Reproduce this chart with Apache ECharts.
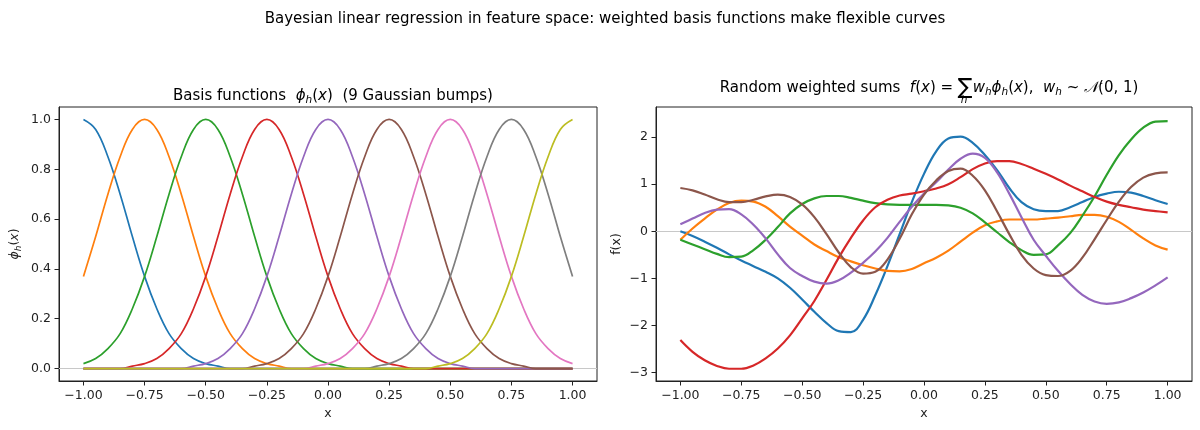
<!DOCTYPE html>
<html>
<head>
<meta charset="utf-8">
<script src="https://cdn.jsdelivr.net/npm/echarts@6/dist/echarts.min.js"></script>
<style>
html, body { margin: 0; padding: 0; background: #fff; }
#main { width: 1200px; height: 430px; }
</style>
</head>
<body>
<div id="main"></div>
<script>
// x grid shared by every curve
var xs = [-1.00, -0.95, -0.90, -0.85, -0.80, -0.75, -0.70, -0.65, -0.60, -0.55,
          -0.50, -0.45, -0.40, -0.35, -0.30, -0.25, -0.20, -0.15, -0.10, -0.05,
           0.00,  0.05,  0.10,  0.15,  0.20,  0.25,  0.30,  0.35,  0.40,  0.45,
           0.50,  0.55,  0.60,  0.65,  0.70,  0.75,  0.80,  0.85,  0.90,  0.95, 1.00];

var xTicks = [-1, -0.75, -0.5, -0.25, 0, 0.25, 0.5, 0.75, 1];
var phiTicks = [0, 0.2, 0.4, 0.6, 0.8, 1.0];
var fTicks = [-3, -2, -1, 0, 1, 2];

// basis functions (centres -1 ... 1)
var phi1 = [1.00,0.96,0.85,0.70,0.53,0.37,0.24,0.14,0.08,0.04,0.02,0.01,0,0,0,0,0,0,0,0,0,0,0,0,0,0,0,0,0,0,0,0,0,0,0,0,0,0,0,0,0];
var phi2 = [0.37,0.53,0.70,0.85,0.96,1.00,0.96,0.85,0.70,0.53,0.37,0.24,0.14,0.08,0.04,0.02,0.01,0,0,0,0,0,0,0,0,0,0,0,0,0,0,0,0,0,0,0,0,0,0,0,0];
var phi3 = [0.02,0.04,0.08,0.14,0.24,0.37,0.53,0.70,0.85,0.96,1.00,0.96,0.85,0.70,0.53,0.37,0.24,0.14,0.08,0.04,0.02,0.01,0,0,0,0,0,0,0,0,0,0,0,0,0,0,0,0,0,0,0];
var phi4 = [0,0,0,0,0.01,0.02,0.04,0.08,0.14,0.24,0.37,0.53,0.70,0.85,0.96,1.00,0.96,0.85,0.70,0.53,0.37,0.24,0.14,0.08,0.04,0.02,0.01,0,0,0,0,0,0,0,0,0,0,0,0,0,0];
var phi5 = [0,0,0,0,0,0,0,0,0,0.01,0.02,0.04,0.08,0.14,0.24,0.37,0.53,0.70,0.85,0.96,1.00,0.96,0.85,0.70,0.53,0.37,0.24,0.14,0.08,0.04,0.02,0.01,0,0,0,0,0,0,0,0,0];
var phi6 = [0,0,0,0,0,0,0,0,0,0,0,0,0,0,0.01,0.02,0.04,0.08,0.14,0.24,0.37,0.53,0.70,0.85,0.96,1.00,0.96,0.85,0.70,0.53,0.37,0.24,0.14,0.08,0.04,0.02,0.01,0,0,0,0];
var phi7 = [0,0,0,0,0,0,0,0,0,0,0,0,0,0,0,0,0,0,0,0.01,0.02,0.04,0.08,0.14,0.24,0.37,0.53,0.70,0.85,0.96,1.00,0.96,0.85,0.70,0.53,0.37,0.24,0.14,0.08,0.04,0.02];
var phi8 = [0,0,0,0,0,0,0,0,0,0,0,0,0,0,0,0,0,0,0,0,0,0,0,0,0.01,0.02,0.04,0.08,0.14,0.24,0.37,0.53,0.70,0.85,0.96,1.00,0.96,0.85,0.70,0.53,0.37];
var phi9 = [0,0,0,0,0,0,0,0,0,0,0,0,0,0,0,0,0,0,0,0,0,0,0,0,0,0,0,0,0,0.01,0.02,0.04,0.08,0.14,0.24,0.37,0.53,0.70,0.85,0.96,1.00];

// random weighted sums
var fBlue   = [0.00,-0.10,-0.22,-0.35,-0.49,-0.62,-0.74,-0.86,-1.00,-1.20,-1.45,-1.71,-1.95,-2.12,-2.14,-1.88,-1.36,-0.74,-0.06,0.62,1.22,1.70,1.97,2.01,1.88,1.62,1.30,0.92,0.62,0.47,0.43,0.43,0.51,0.62,0.73,0.80,0.84,0.82,0.75,0.66,0.58];
var fOrange = [-0.18,0.06,0.27,0.46,0.60,0.65,0.63,0.52,0.32,0.10,-0.09,-0.28,-0.42,-0.55,-0.64,-0.72,-0.79,-0.84,-0.85,-0.80,-0.68,-0.56,-0.41,-0.22,-0.03,0.13,0.21,0.25,0.25,0.25,0.27,0.29,0.32,0.35,0.35,0.31,0.20,0.03,-0.15,-0.30,-0.39];
var fGreen  = [-0.18,-0.28,-0.38,-0.48,-0.55,-0.54,-0.40,-0.18,0.09,0.38,0.58,0.70,0.75,0.75,0.71,0.65,0.60,0.57,0.56,0.56,0.56,0.56,0.55,0.50,0.38,0.19,-0.02,-0.23,-0.40,-0.50,-0.49,-0.30,-0.04,0.33,0.74,1.20,1.62,1.95,2.20,2.33,2.34];
var fRed    = [-2.31,-2.56,-2.74,-2.86,-2.92,-2.92,-2.85,-2.70,-2.49,-2.21,-1.85,-1.48,-1.03,-0.56,-0.14,0.23,0.51,0.67,0.76,0.80,0.85,0.91,1.00,1.15,1.32,1.44,1.49,1.49,1.43,1.33,1.22,1.10,0.97,0.85,0.73,0.63,0.56,0.51,0.46,0.43,0.40];
var fPurple = [0.15,0.27,0.39,0.46,0.47,0.36,0.14,-0.15,-0.49,-0.78,-0.95,-1.07,-1.11,-1.04,-0.88,-0.67,-0.43,-0.14,0.20,0.52,0.80,1.04,1.31,1.54,1.65,1.56,1.25,0.80,0.30,-0.18,-0.52,-0.84,-1.12,-1.35,-1.49,-1.54,-1.51,-1.42,-1.30,-1.15,-0.98];
var fBrown  = [0.92,0.87,0.78,0.68,0.62,0.62,0.67,0.74,0.78,0.73,0.57,0.30,-0.06,-0.45,-0.76,-0.90,-0.86,-0.60,-0.16,0.36,0.78,1.08,1.28,1.33,1.18,0.87,0.42,-0.06,-0.50,-0.79,-0.93,-0.95,-0.84,-0.56,-0.17,0.24,0.63,0.94,1.14,1.23,1.25];

var basisList = [phi1, phi2, phi3, phi4, phi5, phi6, phi7, phi8, phi9];
var sumList = [fBlue, fOrange, fGreen, fRed, fPurple, fBrown];
var colors = ['#1f77b4', '#ff7f0e', '#2ca02c', '#d62728', '#9467bd', '#8c564b', '#e377c2', '#7f7f7f', '#bcbd22'];

var FONT = 'DejaVu Sans';
var INK = '#222';

function minus(s) { return s.replace('-', '\u2212'); }

function pairs(ys) {
    return xs.map(function (x, i) { return [x, ys[i]]; });
}

// thin grey y = 0 reference line, kept under the curves
var zeroLine = {
    silent: true,
    z: 1,
    symbol: 'none',
    label: { show: false },
    lineStyle: { color: '#c8c8c8', width: 1, type: 'solid' },
    data: [{ yAxis: 0 }]
};

var series = [];
basisList.forEach(function (ys, i) {
    var s = {
        type: 'line', xAxisIndex: 0, yAxisIndex: 0,
        data: pairs(ys), showSymbol: false, smooth: 0.4,
        lineStyle: { color: colors[i], width: 1.7 },
        itemStyle: { color: colors[i] }
    };
    if (i === 0) s.markLine = zeroLine;
    series.push(s);
});
sumList.forEach(function (ys, i) {
    var s = {
        type: 'line', xAxisIndex: 1, yAxisIndex: 1,
        data: pairs(ys), showSymbol: false, smooth: 0.4,
        lineStyle: { color: colors[i], width: 2.2 },
        itemStyle: { color: colors[i] }
    };
    if (i === 0) s.markLine = zeroLine;
    series.push(s);
});

function xAxisOf(idx) {
    return {
        gridIndex: idx, type: 'value', min: -1.1, max: 1.1,
        axisLine: { show: true, onZero: false, lineStyle: { color: INK, width: 1 } },
        axisTick: { show: true, length: 4.5, customValues: xTicks, lineStyle: { color: INK } },
        axisLabel: {
            customValues: xTicks, margin: 8, fontSize: 12.5, color: INK, fontFamily: FONT,
            formatter: function (v) { return minus(v.toFixed(2)); }
        },
        splitLine: { show: false },
        name: 'x', nameLocation: 'middle', nameGap: 26,
        nameTextStyle: { fontSize: 12.5, color: INK, fontFamily: FONT }
    };
}

function yAxisOf(idx, lo, hi, ticks, fmt, name, gap, rich) {
    return {
        gridIndex: idx, type: 'value', min: lo, max: hi,
        axisLine: { show: true, onZero: false, lineStyle: { color: INK, width: 1 } },
        axisTick: { show: true, length: 4.5, customValues: ticks, lineStyle: { color: INK } },
        axisLabel: { customValues: ticks, margin: 8, fontSize: 12.5, color: INK, fontFamily: FONT, formatter: fmt },
        splitLine: { show: false },
        name: name, nameLocation: 'middle', nameGap: gap,
        nameTextStyle: rich ? { rich: rich } : { fontSize: 12.5, color: INK, fontFamily: FONT }
    };
}

var mathRich = {
    n: { fontSize: 12.5, fontFamily: FONT, fontWeight: 'normal', color: INK, lineHeight: 16, verticalAlign: 'middle' },
    i: { fontSize: 12.5, fontFamily: FONT, fontWeight: 'normal', fontStyle: 'italic', color: INK, lineHeight: 16, verticalAlign: 'middle' },
    s: { fontSize: 9, fontFamily: FONT, fontWeight: 'normal', fontStyle: 'italic', color: INK, lineHeight: 10, verticalAlign: 'bottom' }
};

var titleRich = {
    t: { fontSize: 15, fontFamily: FONT, fontWeight: 'normal', color: '#000', lineHeight: 20, verticalAlign: 'middle' },
    i: { fontSize: 15, fontFamily: FONT, fontWeight: 'normal', fontStyle: 'italic', color: '#000', lineHeight: 20, verticalAlign: 'middle' },
    s: { fontSize: 10.5, fontFamily: FONT, fontWeight: 'normal', fontStyle: 'italic', color: '#000', lineHeight: 12, verticalAlign: 'bottom' },
    sum: { fontSize: 22, fontFamily: FONT, fontWeight: 'normal', color: '#000', lineHeight: 20, verticalAlign: 'middle' }
};

var option = {
    animation: false,
    backgroundColor: '#fff',
    title: [
        {
            text: 'Bayesian linear regression in feature space: weighted basis functions make flexible curves',
            left: 600, top: 7, textAlign: 'center',
            textStyle: { fontSize: 15, fontWeight: 'normal', fontFamily: FONT, color: '#000' }
        },
        {
            text: '{t|Basis functions  }{i|\u03d5}{s|h}{t|(}{i|x}{t|)  (9 Gaussian bumps)}',
            left: 328, top: 81, textAlign: 'center',
            textStyle: { fontWeight: 'normal', rich: titleRich }
        },
        {
            text: '{t|Random weighted sums  }{i|f}{t|(}{i|x}{t|) = }{sum|\u2211}{i|w}{s|h}{i|\u03d5}{s|h}{t|(}{i|x}{t|),  }{i|w}{s|h}{t| ~ }{i|\ud835\udca9}{t|(0, 1)}',
            left: 924, top: 73, textAlign: 'center',
            textStyle: { fontWeight: 'normal', rich: titleRich }
        }
    ],
    graphic: [
        {
            type: 'text', x: 964, y: 100,
            style: { text: 'h', font: 'italic 10.5px "DejaVu Sans"', fill: '#000', align: 'center', verticalAlign: 'middle' }
        }
    ],
    grid: [
        { left: 59, top: 107, width: 538, height: 274, show: true, borderColor: INK, borderWidth: 1, backgroundColor: 'transparent' },
        { left: 656, top: 107, width: 536, height: 274, show: true, borderColor: INK, borderWidth: 1, backgroundColor: 'transparent' }
    ],
    xAxis: [xAxisOf(0), xAxisOf(1)],
    yAxis: [
        yAxisOf(0, -0.05, 1.05, phiTicks, function (v) { return v.toFixed(1); },
                '{i|\u03d5}{s|h}{n|(}{i|x}{n|)}', 36, mathRich),
        yAxisOf(1, -3.18, 2.64, fTicks, function (v) { return minus(String(Math.round(v))); },
                'f(x)', 33, null)
    ],
    series: series
};

var chart = echarts.init(document.getElementById('main'));
chart.setOption(option);
</script>
</body>
</html>
